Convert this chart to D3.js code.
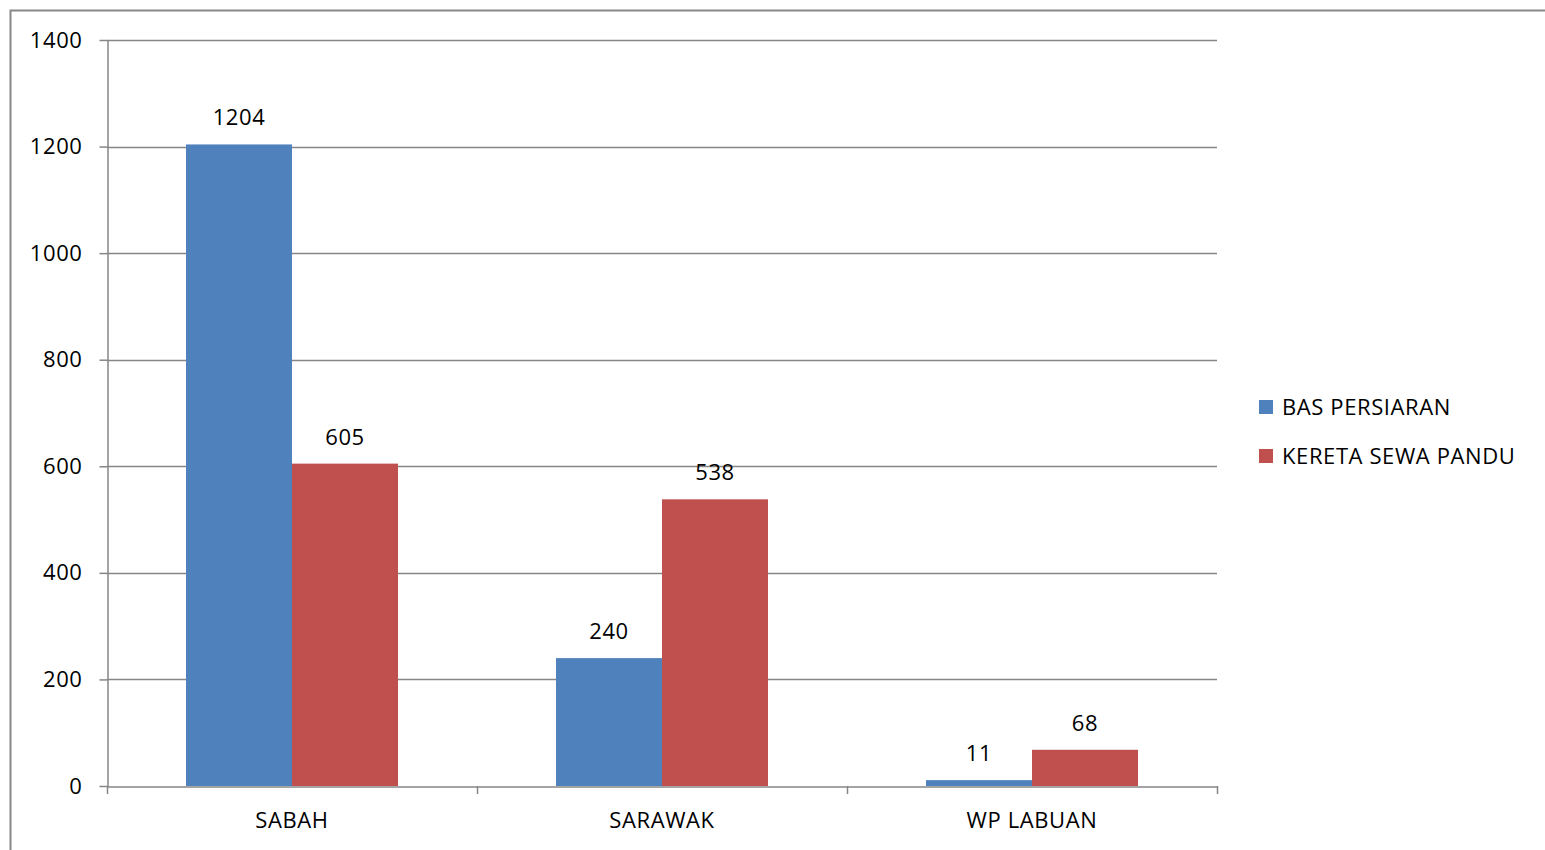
<!DOCTYPE html>
<html>
<head>
<meta charset="utf-8">
<script src="https://cdn.jsdelivr.net/npm/d3@7"></script>
<style>
  body { margin: 0; background: #fff; }
  text { font-family: "Open Sans", "Liberation Sans", sans-serif; fill: #000; }
</style>
</head>
<body>
<script>
// data
var categories = ["SABAH", "SARAWAK", "WP LABUAN"];
var seriesNames = ["BAS PERSIARAN", "KERETA SEWA PANDU"];
var basPersiaran = [1204, 240, 11];
var keretaSewaPandu = [605, 538, 68];
var yTicks = [0, 200, 400, 600, 800, 1000, 1200, 1400];
var colors = ["#4F81BD", "#C0504D"];

var W = 1545, H = 850;
var FS = 22, LS = "0.6px";
var svg = d3.select("body").append("svg").attr("width", W).attr("height", H);

// outer frame (runs off the right/bottom edge like the screenshot)
svg.append("rect").attr("x", 10.5).attr("y", 10.5).attr("width", W + 20).attr("height", H + 20)
  .attr("fill", "none").attr("stroke", "#888").attr("stroke-width", 2);

var plotL = 107, plotR = 1217, plotT = 40, plotB = 786;

var x = d3.scaleBand().domain(categories).range([plotL, plotR]).paddingInner(0).paddingOuter(0);
var x1 = d3.scaleBand().domain(seriesNames).range([79, 79 + 212]);
var y = d3.scaleLinear().domain([0, 1400]).range([plotB, plotT]);

// gridlines
svg.append("g").selectAll("line").data(yTicks.slice(1)).join("line")
  .attr("x1", plotL).attr("x2", plotR)
  .attr("y1", d => Math.round(y(d)) + 0.5).attr("y2", d => Math.round(y(d)) + 0.5)
  .attr("stroke", "#868686").attr("stroke-width", 1.5);

// y axis
var yAxis = svg.append("g").attr("transform", "translate(" + (plotL + 0.5) + ",0)")
  .call(d3.axisLeft(y).tickValues(yTicks).tickFormat(d3.format("d")).tickSize(8).tickPadding(17).tickSizeOuter(0));
yAxis.select(".domain").attr("stroke", "#868686").attr("stroke-width", 1.5);
yAxis.selectAll(".tick line").attr("stroke", "#868686").attr("stroke-width", 1.5);
yAxis.selectAll("text").attr("font-size", FS).attr("fill", "#000").attr("letter-spacing", LS)
  .attr("font-family", "Open Sans, Liberation Sans, sans-serif");

// bars
var rows = categories.map((c, i) => ({cat: c, vals: [basPersiaran[i], keretaSewaPandu[i]]}));
var groups = svg.append("g").selectAll("g").data(rows).join("g")
  .attr("transform", d => "translate(" + x(d.cat) + ",0)");

groups.selectAll("rect").data(d => d.vals.map((v, j) => ({name: seriesNames[j], v: v, j: j}))).join("rect")
  .attr("x", d => x1(d.name))
  .attr("width", x1.bandwidth())
  .attr("y", d => y(d.v))
  .attr("height", d => plotB - y(d.v))
  .attr("fill", d => colors[d.j]);

groups.selectAll("text").data(d => d.vals.map((v, j) => ({name: seriesNames[j], v: v}))).join("text")
  .attr("x", d => x1(d.name) + x1.bandwidth() / 2)
  .attr("y", d => y(d.v) - 19)
  .attr("text-anchor", "middle")
  .attr("font-size", FS).attr("letter-spacing", LS)
  .text(d => d.v);

// x axis
var xAxis = svg.append("g").attr("transform", "translate(0," + (plotB + 0.5) + ")")
  .call(d3.axisBottom(x).tickSize(0).tickPadding(26));
xAxis.select(".domain").attr("stroke", "#868686").attr("stroke-width", 1.5);
xAxis.selectAll("text").attr("font-size", FS).attr("fill", "#000").attr("letter-spacing", LS)
  .attr("font-family", "Open Sans, Liberation Sans, sans-serif");
// category boundary ticks
svg.append("g").selectAll("line").data(categories.concat(["end"])).join("line")
  .attr("x1", (d, i) => i < categories.length ? x(d) + 0.5 : plotR + 0.5)
  .attr("x2", (d, i) => i < categories.length ? x(d) + 0.5 : plotR + 0.5)
  .attr("y1", plotB).attr("y2", plotB + 8)
  .attr("stroke", "#868686").attr("stroke-width", 1.5);

// legend
var legend = svg.append("g").selectAll("g").data(seriesNames).join("g")
  .attr("transform", (d, i) => "translate(1259," + (400 + i * 49) + ")");
legend.append("rect").attr("width", 14).attr("height", 14).attr("fill", (d, i) => colors[i]);
legend.append("text").attr("x", 23).attr("y", 15).attr("font-size", FS).attr("letter-spacing", LS).text(d => d);
</script>
</body>
</html>
